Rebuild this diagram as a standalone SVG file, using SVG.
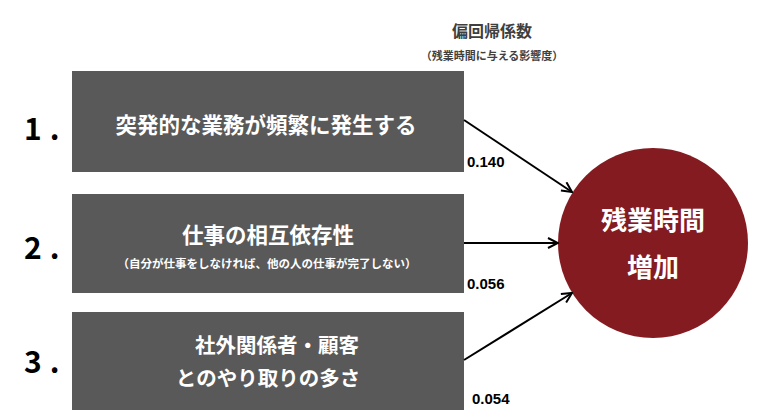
<svg xmlns="http://www.w3.org/2000/svg" width="762" height="420" viewBox="0 0 762 420">
<defs>
<style>
.t{font-family:"Noto Sans CJK JP","Noto Sans",sans-serif;font-weight:bold}
.box{fill:#595959}
.wt{fill:#ffffff;text-anchor:middle}
.num{fill:#000000;font-size:30px}
.coef{fill:#000000;font-size:15px;font-family:"Liberation Sans","Noto Sans",sans-serif;font-weight:bold}
.hd{fill:#3f3f3f;text-anchor:middle}
.conn{stroke:#000;stroke-width:2;fill:none;marker-end:url(#ah)}
</style>
<marker id="ah" viewBox="0 0 12 12" refX="11" refY="6" markerWidth="12" markerHeight="12" markerUnits="userSpaceOnUse" orient="auto">
<path d="M1,1 L11,6 L1,11" fill="none" stroke="#000" stroke-width="2"/>
</marker>
</defs>
<rect width="762" height="420" fill="#ffffff"/>
<g id="header">
<text class="t hd" x="492" y="37" font-size="16">偏回帰係数</text>
<text class="t hd" x="492" y="60" font-size="11">（残業時間に与える影響度）</text>
</g>
<g id="node1">
<text class="t num" x="24" y="140">1<tspan dx="8">.</tspan></text>
<rect class="box" x="72" y="71" width="392" height="101"/>
<text class="t wt" x="266" y="133" font-size="21.5">突発的な業務が頻繁に発生する</text>
</g>
<g id="node2">
<text class="t num" x="24" y="259">2<tspan dx="8">.</tspan></text>
<rect class="box" x="72" y="194" width="392" height="99"/>
<text class="t wt" x="268" y="243" font-size="21.5">仕事の相互依存性</text>
<text class="t wt" x="267" y="268" font-size="11.5" font-weight="normal">（自分が仕事をしなければ、他の人の仕事が完了しない）</text>
</g>
<g id="node3">
<text class="t num" x="24" y="373">3<tspan dx="8">.</tspan></text>
<rect class="box" x="72" y="312" width="392" height="98"/>
<text class="t wt" x="277" y="353" font-size="20.5">社外関係者・顧客</text>
<text class="t wt" x="268" y="386" font-size="20.5">とのやり取りの多さ</text>
</g>
<g id="target">
<circle cx="653" cy="243" r="95" fill="#841b21"/>
<text class="t wt" x="653" y="230" font-size="26">残業時間</text>
<text class="t wt" x="653" y="277" font-size="26">増加</text>
</g>
<g id="connectors">
<line class="conn" x1="464" y1="120" x2="572" y2="192"/>
<line class="conn" x1="464" y1="243" x2="558" y2="243"/>
<line class="conn" x1="464" y1="360" x2="572" y2="293"/>
<text class="coef" x="467" y="167">0.140</text>
<text class="coef" x="467" y="289">0.056</text>
<text class="coef" x="472" y="404">0.054</text>
</g>
</svg>
